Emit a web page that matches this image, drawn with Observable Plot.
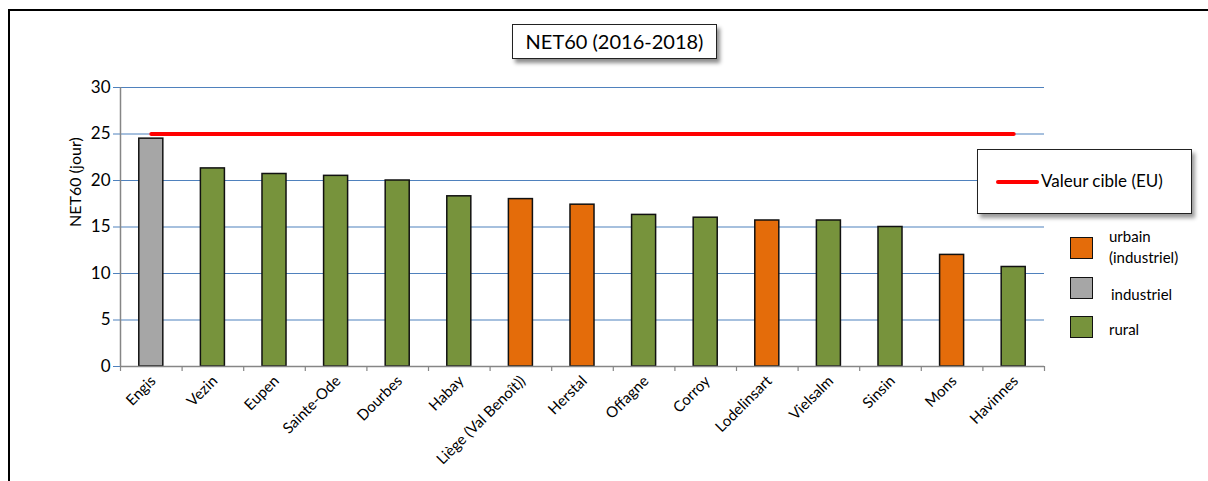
<!DOCTYPE html>
<html><head><meta charset="utf-8">
<script src="https://cdn.jsdelivr.net/npm/d3@7"></script>
<script src="https://cdn.jsdelivr.net/npm/@observablehq/plot@0.6"></script>
<style>
html,body{margin:0;padding:0;background:#fff;}
#wrap{position:relative;width:1208px;height:481px;overflow:hidden;font-family:Lato,"Open Sans",sans-serif;color:#000;}
#frame{position:absolute;left:8px;top:9px;width:1400px;height:700px;border:2px solid #000;}
#chart{position:absolute;left:0;top:0;}
#title{position:absolute;left:512px;top:24px;width:203px;height:33px;border:1px solid #222;background:#fff;box-shadow:3px 4px 4px rgba(0,0,0,0.45);font-size:20px;line-height:33px;text-align:center;}
#lbox{position:absolute;left:977px;top:149px;width:213px;height:63px;border:1px solid #222;background:#fff;box-shadow:3px 4px 4px rgba(0,0,0,0.4);}
#lbox .ln{position:absolute;left:18px;top:30px;width:43px;height:4px;background:#ff0000;border-radius:2px;}
#lbox .tx{position:absolute;left:63px;top:21px;font-size:17px;line-height:20px;white-space:nowrap;}
.sw{position:absolute;left:1070px;width:21px;height:20px;border:1.5px solid #111;}
.lt{position:absolute;font-size:15px;line-height:21px;white-space:nowrap;}
</style></head>
<body>
<div id="wrap">
  <div id="frame"></div>
  <div id="chart"></div>
  <div id="title"></div>
  <div id="lbox"><div class="ln"></div><div class="tx" id="targetLabel"></div></div>
  <div id="legend"></div>
</div>
<script>
const titleText = "NET60 (2016-2018)";
const yLabel = "NET60 (jour)";
const sites = ["Engis","Vezin","Eupen","Sainte-Ode","Dourbes","Habay","Liège (Val Benoît))","Herstal","Offagne","Corroy","Lodelinsart","Vielsalm","Sinsin","Mons","Havinnes"];
const values = [24.5, 21.3, 20.7, 20.5, 20.0, 18.3, 18.0, 17.4, 16.3, 16.0, 15.7, 15.7, 15.0, 12.0, 10.7];
const types = ["industriel","rural","rural","rural","rural","rural","urbain (industriel)","urbain (industriel)","rural","rural","urbain (industriel)","rural","rural","urbain (industriel)","rural"];
const typeNames = ["urbain (industriel)","industriel","rural"];
const typeColors = ["#E46C0A","#A6A6A6","#77933C"];
const yTicks = [0,5,10,15,20,25,30];
const targetValue = 25;
const targetName = "Valeur cible (EU)";

const data = sites.map((s,i)=>({site:s, value:values[i], type:types[i]}));
const target = [{site:sites[0], value:targetValue},{site:sites[sites.length-1], value:targetValue}];

const W = 1208, H = 481, mL = 120, mR = 164, mT = 87, mB = 115;
const step = (W - mL - mR) / sites.length;

const chart = Plot.plot({
  width: W, height: H,
  marginLeft: mL, marginRight: mR, marginTop: mT, marginBottom: mB,
  style: {background:"transparent", fontFamily:"Lato, 'Open Sans', sans-serif", color:"#000", overflow:"visible"},
  x: {domain: sites, paddingInner: 0.61, paddingOuter: 0.305, round: false, axis: null},
  y: {domain: [0,30], axis: null},
  color: {domain: typeNames, range: typeColors},
  marks: [
    Plot.gridY(yTicks, {stroke:"#4F81BD", strokeOpacity:1, strokeWidth:1.2}),
    Plot.axisY(yTicks, {tickSize:7, tickPadding:3, stroke:"#4F81BD", fontSize:17, label:null}),
    Plot.text([yLabel], {frameAnchor:"left", rotate:-90, dx:-45, fontSize:16, fill:"#000"}),
    Plot.barY(data, {x:"site", y:"value", fill:"type", stroke:"#111", strokeWidth:1.5}),
    Plot.ruleY([0], {stroke:"#868686", strokeWidth:1.5}),
    Plot.ruleX([sites[0]], {y1:0, y2:30, dx:-step/2, stroke:"#868686", strokeWidth:1.5}),
    Plot.axisX(sites, {tickSize:5, text:null, label:null, dx: step/2, stroke:"#868686", strokeWidth:1.2}),
    Plot.axisX([sites[0]], {tickSize:5, text:null, label:null, dx: -step/2, stroke:"#868686", strokeWidth:1.2}),
    Plot.axisX(sites, {tickSize:0, tickRotate:-45, tickPadding:12, dx:2, fontSize:15, label:null, fill:"#000"}),
    Plot.line(target, {x:"site", y:"value", stroke:"#FF0000", strokeWidth:4})
  ]
});
document.getElementById("chart").appendChild(chart);
document.getElementById("title").textContent = titleText;
document.getElementById("targetLabel").textContent = targetName;

// legend
const legend = document.getElementById("legend");
const swTops = [237, 277, 316];
const txt = [["urbain","(industriel)"],["industriel"],["rural"]];
const txLeft = [1109, 1111, 1109];
const txTop = [226, 284, 319];
typeNames.forEach((t,i)=>{
  const sw = document.createElement("div");
  sw.className = "sw"; sw.style.top = swTops[i]+"px"; sw.style.background = typeColors[i];
  legend.appendChild(sw);
  const lt = document.createElement("div");
  lt.className = "lt"; lt.style.left = txLeft[i]+"px"; lt.style.top = txTop[i]+"px";
  lt.innerHTML = txt[i].join("<br>");
  legend.appendChild(lt);
});
</script>
</body></html>
